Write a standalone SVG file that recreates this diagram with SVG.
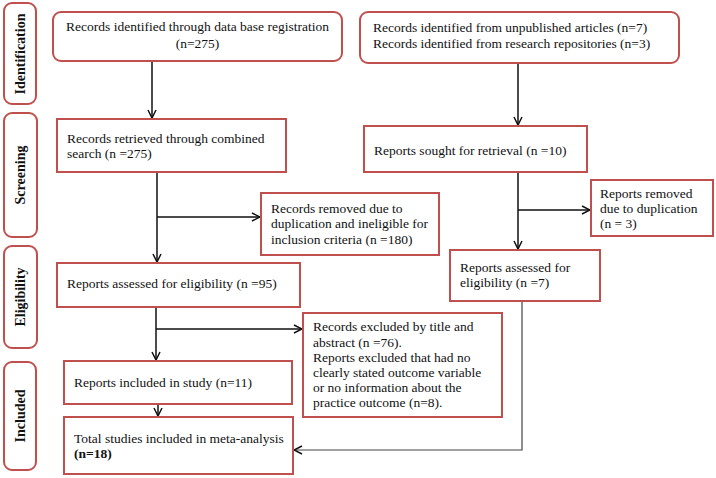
<svg xmlns="http://www.w3.org/2000/svg" width="716" height="478" viewBox="0 0 716 478">
<style>
.box{fill:#fff;stroke:#C0504D;stroke-width:2}
.t{font-family:"Liberation Serif","Times New Roman",serif;font-size:13.5px;fill:#111}
.ph{font-family:"Liberation Serif","Times New Roman",serif;font-size:14px;font-weight:bold;fill:#111;text-anchor:middle}
.c{fill:none;stroke:#111;stroke-width:1.5}
.g{fill:none;stroke:#444;stroke-width:1.2}
</style>
<defs>
<marker id="arr" viewBox="0 0 10 10" refX="9" refY="5" markerWidth="10" markerHeight="10" markerUnits="userSpaceOnUse" orient="auto">
<path d="M1,1 L9,5 L1,9" fill="none" stroke="#111" stroke-width="1.5"/>
</marker>
</defs>
<rect width="716" height="478" fill="#fff"/>
<g id="phase-identification"><rect class="box" x="4" y="3" width="32" height="101" rx="8"/><text class="ph" transform="translate(25,54) rotate(-90)">Identification</text></g>
<g id="phase-screening"><rect class="box" x="4" y="113" width="33" height="124" rx="8"/><text class="ph" transform="translate(25,175) rotate(-90)">Screening</text></g>
<g id="phase-eligibility"><rect class="box" x="4" y="246" width="33" height="102" rx="8"/><text class="ph" transform="translate(25,297) rotate(-90)">Eligibility</text></g>
<g id="phase-included"><rect class="box" x="4" y="362" width="32" height="108" rx="8"/><text class="ph" transform="translate(25,416) rotate(-90)">Included</text></g>

<g id="connectors">
<line class="c" x1="152" y1="61" x2="152" y2="118" marker-end="url(#arr)"/>
<line class="c" x1="518" y1="63" x2="518" y2="125" marker-end="url(#arr)"/>
<line class="c" x1="157" y1="172" x2="157" y2="262" marker-end="url(#arr)"/>
<line class="c" x1="157" y1="217" x2="260" y2="217" marker-end="url(#arr)"/>
<line class="c" x1="518" y1="172" x2="518" y2="249" marker-end="url(#arr)"/>
<line class="c" x1="518" y1="210" x2="590" y2="210" marker-end="url(#arr)"/>
<line class="c" x1="156" y1="307" x2="156" y2="360" marker-end="url(#arr)"/>
<line class="c" x1="156" y1="329" x2="302" y2="329" marker-end="url(#arr)"/>
<line class="c" x1="158" y1="404" x2="158" y2="416" marker-end="url(#arr)"/>
<polyline class="g" points="522,301 522,450 294,450" marker-end="url(#arr)"/>
</g>

<g id="n-db"><rect class="box" x="53" y="12" width="289" height="49" rx="8"/><text class="t" x="197.5" y="31" text-anchor="middle">Records identified through data base registration</text><text class="t" x="197.5" y="48" text-anchor="middle">(n=275)</text></g>
<g id="n-other"><rect class="box" x="360" y="12" width="319" height="51" rx="8"/><text class="t" x="373" y="32">Records identified from unpublished articles (n=7)</text><text class="t" x="373" y="48">Records identified from research repositories (n=3)</text></g>
<g id="n-retrieved"><rect class="box" x="57" y="119" width="229" height="53"/><text class="t" x="67" y="143">Records retrieved through combined</text><text class="t" x="67" y="158">search (n =275)</text></g>
<g id="n-sought"><rect class="box" x="364" y="126" width="223" height="46"/><text class="t" x="374" y="155">Reports sought for retrieval (n =10)</text></g>
<g id="n-removed1"><rect class="box" x="261" y="193" width="178" height="62"/><text class="t" x="271" y="213">Records removed due to</text><text class="t" x="271" y="228">duplication and ineligible for</text><text class="t" x="271" y="244">inclusion criteria (n =180)</text></g>
<g id="n-removed2"><rect class="box" x="591" y="180" width="122" height="56"/><text class="t" x="600" y="198">Reports removed</text><text class="t" x="600" y="213">due to duplication</text><text class="t" x="600" y="228">(n = 3)</text></g>
<g id="n-assess7"><rect class="box" x="450" y="250" width="150" height="51"/><text class="t" x="460" y="272">Reports assessed for</text><text class="t" x="460" y="287">eligibility (n =7)</text></g>
<g id="n-assess95"><rect class="box" x="57" y="263" width="243" height="44"/><text class="t" x="67" y="288">Reports assessed for eligibility (n =95)</text></g>
<g id="n-excluded"><rect class="box" x="303" y="313" width="199" height="104"/><text class="t" x="313" y="331">Records excluded by title and</text><text class="t" x="313" y="347">abstract (n =76).</text><text class="t" x="313" y="362">Reports excluded that had no</text><text class="t" x="313" y="377">clearly stated outcome variable</text><text class="t" x="313" y="392">or no information about the</text><text class="t" x="313" y="407">practice outcome (n=8).</text></g>
<g id="n-included"><rect class="box" x="64" y="361" width="228" height="43"/><text class="t" x="74" y="387">Reports included in study (n=11)</text></g>
<g id="n-total"><rect class="box" x="64" y="417" width="229" height="57"/><text class="t" x="74" y="443">Total studies included in meta-analysis</text><text class="t" x="74" y="458" font-weight="bold">(n=18)</text></g>
</svg>
